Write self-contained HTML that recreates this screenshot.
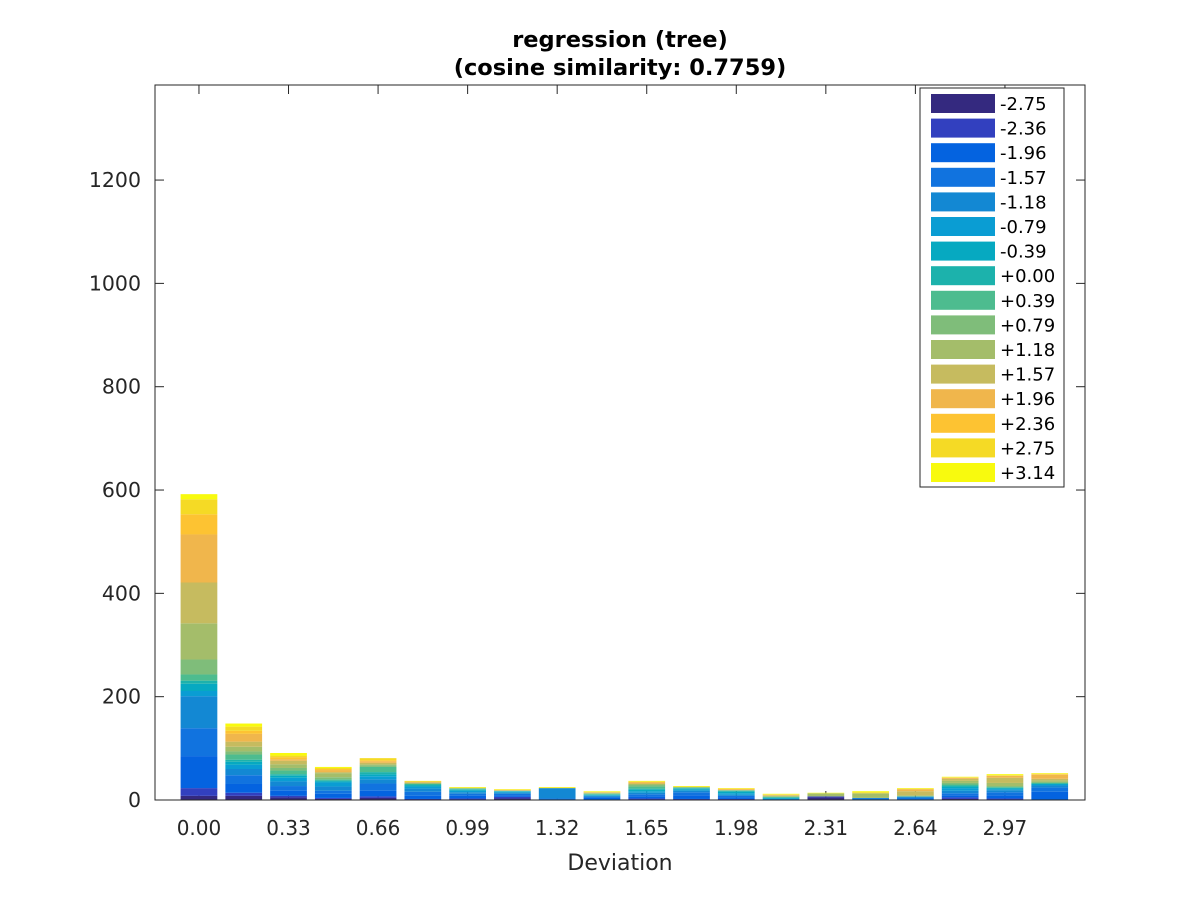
<!DOCTYPE html>
<html><head><meta charset="utf-8"><style>
body{margin:0;background:#fff;font-family:"Liberation Sans","DejaVu Sans",sans-serif;}
</style></head><body>
<svg id="chart" width="1200" height="900" xmlns="http://www.w3.org/2000/svg" font-family="DejaVu Sans, Liberation Sans, sans-serif">
<rect width="1200" height="900" fill="#fff"/>
<text x="620" y="47" text-anchor="middle" font-size="22.5" font-weight="bold">regression (tree)</text>
<text x="620" y="75" text-anchor="middle" font-size="22.5" font-weight="bold">(cosine similarity: 0.7759)</text>
<g id="axes"></g>
<g id="bars"></g>
<text x="620" y="870" text-anchor="middle" font-size="22" fill="#262626">Deviation</text>
<g id="legend"></g>
</svg>
<script>
const seriesLabels=['-2.75','-2.36','-1.96','-1.57','-1.18','-0.79','-0.39','+0.00','+0.39','+0.79','+1.18','+1.57','+1.96','+2.36','+2.75','+3.14'];
const colors=['#34297f','#3240bf','#0463e0','#1173df','#1388d3','#0a9dd3','#06a9c1','#1cb2ac','#4dbc8f','#7fbd7a','#a4bd6a','#c6bb5f','#f0b64c','#fdc332','#f5da25','#f8fa0e'];
const categories=[0,0.165,0.33,0.495,0.66,0.825,0.99,1.155,1.32,1.485,1.65,1.815,1.98,2.145,2.31,2.475,2.64,2.805,2.97,3.135];
const bar01=[8,15,62,54,62,10,14,6,12,29,70,79,93,39,29,10];
const bar02=[8,6,17,17,12,8,6,4,10,6,9,10,15,6,8,6];
const bar03=[5,3,10,9,9,7,4,3,7,5,7,7,3,4,3,5];
const bar04=[2,2,8,6,8,8,2,2,2,4,8,2,4,2,2,2];
const bar05=[4,3,11,14,8,6,4,4,10,3,2,3,3,2,4,0];
const bar06=[0,2,6,8,6,4,2,2,1,1,1,1,2,0,0,1];
const bar07=[1,2,5,4,3,3,2,1,1,1,0,0,0,0,1,1];
const bar08=[3,3,3,3,2,2,1,1,0,0,0,0,1,1,0,1];
const bar09=[0,0,1,2,20,0,0,0,0,0,0,0,0,0,1,1];
const bar10=[0,1,3,2,2,1,1,1,1,1,1,0,1,0,1,1];
const bar11=[1,2,4,4,3,3,3,2,4,3,2,1,2,1,1,1];
const bar12=[1,1,7,6,3,2,2,1,1,1,0,0,0,0,1,1];
const bar13=[0,2,3,3,2,3,3,2,1,0,0,0,2,1,0,1];
const bar14=[0,0,0,1,1,1,1,1,1,1,1,1,1,0,1,1];
const bar15=[5,2,0,0,0,0,0,0,0,0,6,0,0,0,0,1];
const bar16=[0,0,1,2,1,0,0,0,0,0,9,0,0,0,2,2];
const bar17=[0,0,1,3,2,1,0,0,0,0,2,8,4,0,1,1];
const bar18=[2,3,4,4,5,5,3,2,2,3,4,4,2,0,1,1];
const bar19=[1,2,6,6,4,2,2,1,1,2,6,10,4,0,1,2];
const bar20=[0,1,15,8,4,2,1,1,1,2,3,3,8,1,1,1];
const stacks=[bar01,bar02,bar03,bar04,bar05,bar06,bar07,bar08,bar09,bar10,bar11,bar12,bar13,bar14,bar15,bar16,bar17,bar18,bar19,bar20];
const yTicks=[0,200,400,600,800,1000,1200];
const xTickLabels=['0.00','0.33','0.66','0.99','1.32','1.65','1.98','2.31','2.64','2.97'];

const L=155,R=1085,T=85,B=800;
const xMin=-0.162,xMax=3.265,yMax=1384;
const X=v=>L+(v-xMin)/(xMax-xMin)*(R-L);
const Y=v=>B-v/yMax*(B-T);
const NS='http://www.w3.org/2000/svg';
function mk(tag,attrs,parent){const e=document.createElementNS(NS,tag);for(const k in attrs)e.setAttribute(k,attrs[k]);parent.appendChild(e);return e;}
const gb=document.getElementById('bars');
const bw=0.165*0.82;
stacks.forEach((s,i)=>{let acc=0;
  s.forEach((v,j)=>{if(v<=0)return;
    const r=mk('rect',{x:X(categories[i]-bw/2),y:Y(acc+v),width:X(categories[i]+bw/2)-X(categories[i]-bw/2),height:Y(acc)-Y(acc+v),fill:colors[j]},gb);
    
    
    acc+=v;});
});
const ga=document.getElementById('axes');
const box=mk('rect',{x:L,y:T,width:R-L,height:B-T,fill:'none',stroke:'#262626','stroke-width':1},ga);


yTicks.forEach(v=>{const y=Y(v);
  mk('line',{x1:L,x2:L+9,y1:y,y2:y,stroke:'#262626'},ga);
  mk('line',{x1:R,x2:R-9,y1:y,y2:y,stroke:'#262626'},ga);
  const t=mk('text',{x:141,y:y+7,'text-anchor':'end','font-size':20.5,fill:'#262626'},ga);
  t.textContent=v;
  
  
});
xTickLabels.forEach((lab,k)=>{const x=X(parseFloat(lab));
  mk('line',{x1:x,x2:x,y1:B,y2:B-9,stroke:'#262626'},ga);
  mk('line',{x1:x,x2:x,y1:T,y2:T+9,stroke:'#262626'},ga);
  const t=mk('text',{x:x,y:835,'text-anchor':'middle','font-size':20,fill:'#262626'},ga);
  t.textContent=lab;
  
  
});
mk('line',{x1:L,x2:R,y1:B,y2:B,stroke:'#262626'},document.getElementById('chart'));
const gl=document.getElementById('legend');
mk('rect',{x:920,y:88,width:144,height:399,fill:'#fff',stroke:'#262626'},gl);
seriesLabels.forEach((lab,j)=>{const y=94+j*24.6;
  const sw=mk('rect',{x:931,y:y,width:64,height:19,fill:colors[j]},gl);
  
  
  const t=mk('text',{x:1000,y:y+16,'font-size':18,fill:'#000'},gl);
  t.textContent=lab;
  
  
});
</script>
</body></html>
